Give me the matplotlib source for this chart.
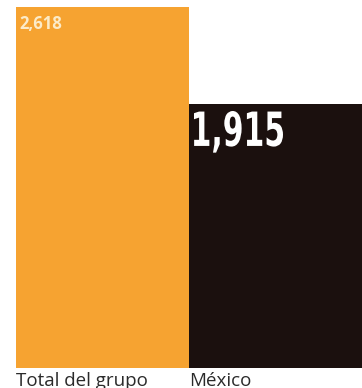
import matplotlib
matplotlib.use("Agg")
import matplotlib.pyplot as plt
from matplotlib.textpath import TextPath
from matplotlib.patches import PathPatch
from matplotlib.font_manager import FontProperties
from matplotlib.transforms import Affine2D, IdentityTransform

categories = ["Total del grupo", "México"]
values = [2618, 1915]
value_labels = ["2,618", "1,915"]
colors = ["#F6A331", "#1B100E"]

W, H = 362, 388
fig = plt.figure(figsize=(W / 100, H / 100), dpi=100)
ax = fig.add_axes([16 / W, 20 / H, 346 / W, 361 / H])
bars = ax.bar(range(len(values)), values, width=1.0, color=colors, align="center")
ax.set_xlim(-0.5, 1.5)
ax.set_ylim(0, max(values))
ax.axis("off")


def squeezed_text(text, left, top, width, cap_h, color):
    """Draw text as a path stretched into a pixel box (condensed look)."""
    prop = FontProperties(family="DejaVu Sans", weight="bold")
    tp = TextPath((0, 0), text, size=50, prop=prop)
    digits = TextPath((0, 0), "0", size=50, prop=prop).get_extents()
    bb = tp.get_extents()
    tr = (Affine2D().translate(-bb.x0, -digits.y1)
          .scale(width / bb.width, cap_h / digits.y1)
          .translate(left, top))
    fig.patches.append(PathPatch(tr.transform_path(tp), facecolor=color,
                                 edgecolor="none", transform=IdentityTransform(),
                                 figure=fig))


# value labels inside bars
ax.text(-0.478, values[0] - 58, value_labels[0], ha="left", va="top",
        fontsize=12, fontweight="bold", color="#FCEBC8", family="Open Sans")

fig.canvas.draw()
bx, by = ax.transData.transform((0.5, values[1]))
squeezed_text(value_labels[1], bx + 5, by - 7, 89, 35, "white")

# category labels under bars
for i, cat in enumerate(categories):
    ax.annotate(cat, (i - 0.5, 0), xytext=(0, -13), textcoords="offset points",
                ha="left", va="baseline", fontsize=13.5,
                color="#2a2a2a", family="Open Sans", annotation_clip=False)

fig.savefig("out.png", dpi=100, facecolor="white")
